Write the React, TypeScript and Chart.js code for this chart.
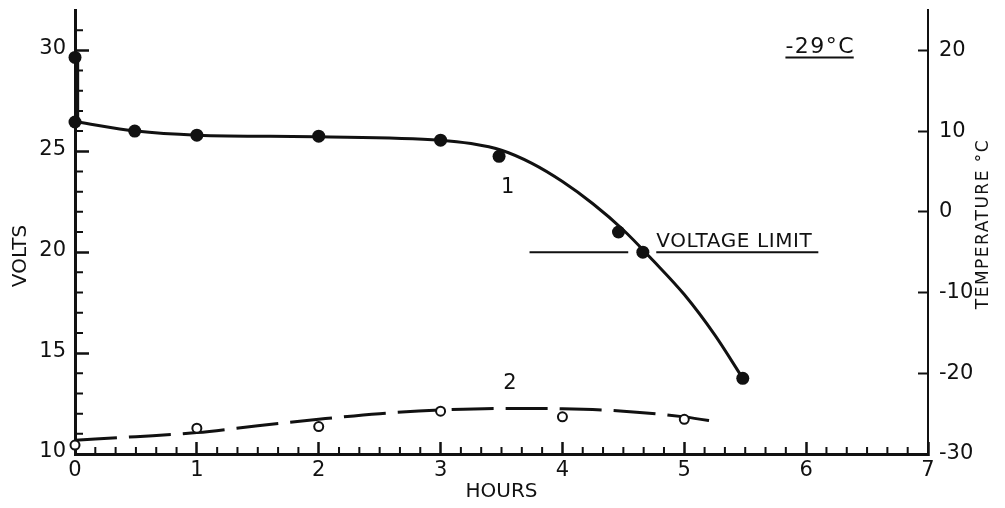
import React, { useEffect, useRef } from "react";
import { Chart, registerables } from "chart.js";

Chart.register(...registerables);

// ---------- data ----------
const hourTicks = [0, 1, 2, 3, 4, 5, 6, 7];
const voltTicks = [10, 15, 20, 25, 30];
const tempTicks = [-30, -20, -10, 0, 10, 20];

// curve 1: battery voltage (filled dots)
const voltHours = [0, 0, 0.49, 1, 2, 3, 3.48, 4.46, 4.66, 5.48];
const voltValues = [29.65, 26.45, 26.0, 25.8, 25.75, 25.55, 24.75, 21.0, 20.0, 13.75];

// initial voltage drop at switch-on (vertical stroke of curve 1)
const dropHours = [0.02, 0.02];
const dropValues = [29.65, 26.45];

// faired curve 1
const voltCurveHours = [0.02, 0.5, 1, 2, 3, 3.25, 3.5, 3.75, 4, 4.25, 4.5, 4.75, 5, 5.25, 5.48];
const voltCurveValues = [26.45, 26.0, 25.8, 25.72, 25.55, 25.38, 25.05, 24.4, 23.5, 22.4, 21.1, 19.55, 17.9, 15.9, 13.75];

// curve 2: temperature (open circles)
const tempHours = [0, 1, 2, 3, 4, 5];
const tempValues = [-28.9, -26.8, -26.6, -24.7, -25.4, -25.7];

// faired curve 2 (dashed)
const tempCurveHours = [0, 0.5, 1, 1.5, 2, 2.5, 3, 3.5, 4, 4.5, 5, 5.3];
const tempCurveValues = [-28.3, -27.85, -27.35, -26.5, -25.7, -25.0, -24.55, -24.35, -24.4, -24.7, -25.4, -26.1];

// voltage limit line (20 V), broken where it meets curve 1
const limitHours = [3.73, 4.54, 4.65, 4.77, 6.1];
const limitValues: (number | null)[] = [20, 20, null, 20, 20];

// text notes placed in data coordinates
const noteTexts = ["1", "2", "VOLTAGE LIMIT", "-29°C"];
const noteHours = [3.55, 3.57, 4.77, 5.83];
const noteVolts = [23.2, 13.5, 20.25, 29.85];

// ---------- style ----------
const INK = "#111111";
const FONT = '"DejaVu Sans", "Noto Sans", sans-serif';

const pts = (xs: number[], ys: (number | null)[]) => xs.map((x, i) => ({ x, y: ys[i] }));

const inkPlugin = {
  id: "inkPlugin",
  beforeDatasetsDraw(chart: any) {
    const { ctx, chartArea, scales } = chart;
    const xs = scales.x;
    const ys = scales.y;
    ctx.save();
    ctx.strokeStyle = INK;
    ctx.lineWidth = 2;
    ctx.beginPath();
    // minor hour ticks (10 minutes)
    for (let k = 1; k < 42; k++) {
      if (k % 6 === 0) continue;
      const px = xs.getPixelForValue(k / 6);
      ctx.moveTo(px, chartArea.bottom);
      ctx.lineTo(px, chartArea.bottom - 7);
    }
    // minor volt ticks (1 V)
    for (let v = 11; v < 32; v++) {
      if (v % 5 === 0) continue;
      const py = ys.getPixelForValue(v);
      ctx.moveTo(chartArea.left, py);
      ctx.lineTo(chartArea.left + 8, py);
    }
    ctx.stroke();
    ctx.restore();
  },
  afterDatasetsDraw(chart: any) {
    const { ctx, chartArea, scales } = chart;
    const xs = scales.x;
    const ys = scales.y;
    ctx.save();
    ctx.fillStyle = INK;
    ctx.strokeStyle = INK;

    const drawNote = (i: number, size: number, align: CanvasTextAlign, baseline: CanvasTextBaseline, spacing: number, underline: boolean) => {
      const px = xs.getPixelForValue(noteHours[i]);
      const py = ys.getPixelForValue(noteVolts[i]);
      ctx.font = `${size}px ${FONT}`;
      (ctx as any).letterSpacing = `${spacing}px`;
      ctx.textAlign = align;
      ctx.textBaseline = baseline;
      ctx.fillText(noteTexts[i], px, py);
      if (underline) {
        const w = ctx.measureText(noteTexts[i]).width;
        ctx.lineWidth = 2;
        ctx.beginPath();
        ctx.moveTo(px, py + 4);
        ctx.lineTo(px + w - spacing, py + 4);
        ctx.stroke();
      }
      (ctx as any).letterSpacing = "0px";
    };
    drawNote(0, 21, "center", "middle", 0, false);
    drawNote(1, 21, "center", "middle", 0, false);
    drawNote(2, 20, "left", "alphabetic", 0.6, false);
    drawNote(3, 22, "left", "alphabetic", 1.5, true);

    // axis titles
    ctx.textAlign = "center";
    ctx.textBaseline = "middle";
    ctx.font = `20px ${FONT}`;
    ctx.fillText("HOURS", (chartArea.left + chartArea.right) / 2, 492);

    ctx.save();
    ctx.translate(21, 256);
    ctx.rotate(-Math.PI / 2);
    ctx.fillText("VOLTS", 0, 0);
    ctx.restore();

    ctx.save();
    ctx.translate(984, 224);
    ctx.rotate(-Math.PI / 2);
    ctx.font = `17px ${FONT}`;
    (ctx as any).letterSpacing = "1.5px";
    ctx.fillText("TEMPERATURE °C", 0, 0);
    (ctx as any).letterSpacing = "0px";
    ctx.restore();

    ctx.restore();
  },
};

export default function App() {
  const ref = useRef<HTMLCanvasElement>(null);

  useEffect(() => {
    if (!ref.current) return;
    const tickFont = { family: FONT, size: 21 };
    const chart = new Chart(ref.current, {
      type: "line",
      data: {
        datasets: [
          {
            label: "volts points",
            data: pts(voltHours, voltValues),
            yAxisID: "y",
            showLine: false,
            pointRadius: 6.5,
            pointHoverRadius: 6.5,
            pointBackgroundColor: INK,
            pointBorderWidth: 0,
            clip: false,
          },
          {
            label: "temperature points",
            data: pts(tempHours, tempValues),
            yAxisID: "y2",
            showLine: false,
            pointRadius: 4.5,
            pointHoverRadius: 4.5,
            pointBackgroundColor: "#ffffff",
            pointBorderColor: INK,
            pointBorderWidth: 2,
            clip: false,
          },
          {
            label: "initial drop",
            data: pts(dropHours, dropValues),
            yAxisID: "y",
            borderColor: INK,
            borderWidth: 3.5,
            pointRadius: 0,
            tension: 0,
            clip: false,
          },
          {
            label: "volts curve",
            data: pts(voltCurveHours, voltCurveValues),
            yAxisID: "y",
            borderColor: INK,
            borderWidth: 3,
            pointRadius: 0,
            tension: 0.4,
            cubicInterpolationMode: "monotone",
            clip: false,
          },
          {
            label: "temperature curve",
            data: pts(tempCurveHours, tempCurveValues),
            yAxisID: "y2",
            borderColor: INK,
            borderWidth: 3,
            borderDash: [42, 12],
            pointRadius: 0,
            tension: 0.4,
            cubicInterpolationMode: "monotone",
            clip: false,
          },
          {
            label: "voltage limit",
            data: pts(limitHours, limitValues),
            yAxisID: "y",
            borderColor: INK,
            borderWidth: 2,
            pointRadius: 0,
            spanGaps: false,
            clip: false,
          },
        ],
      },
      options: {
        animation: false,
        responsive: false,
        devicePixelRatio: 1,
        events: [],
        layout: { padding: { top: 10, left: 0, right: 0, bottom: 0 } },
        plugins: { legend: { display: false }, tooltip: { enabled: false } },
        scales: {
          x: {
            type: "linear",
            position: "bottom",
            min: 0,
            max: 7,
            afterBuildTicks: (s: any) => {
              s.ticks = hourTicks.map((v) => ({ value: v }));
            },
            ticks: { font: tickFont, color: INK, padding: 16, maxRotation: 0, autoSkip: false },
            grid: { drawOnChartArea: false, drawTicks: true, tickLength: -12, tickWidth: 2.5, tickColor: INK },
            border: { display: true, color: INK, width: 3 },
            afterFit: (s: any) => {
              s.height = 54;
              s.paddingLeft = 0;
              s.paddingRight = 0;
            },
          },
          y: {
            type: "linear",
            position: "left",
            min: 10,
            max: 32,
            afterBuildTicks: (s: any) => {
              s.ticks = voltTicks.map((v) => ({ value: v }));
            },
            ticks: { font: tickFont, color: INK, padding: 23, autoSkip: false, labelOffset: -2 },
            grid: { drawOnChartArea: false, drawTicks: true, tickLength: -14, tickWidth: 2.5, tickColor: INK },
            border: { display: true, color: INK, width: 3 },
            afterFit: (s: any) => {
              s.width = 75;
              s.paddingTop = 0;
              s.paddingBottom = 0;
            },
          },
          y2: {
            type: "linear",
            position: "right",
            min: -30,
            max: 25,
            afterBuildTicks: (s: any) => {
              s.ticks = tempTicks.map((v) => ({ value: v }));
            },
            ticks: { font: tickFont, color: INK, padding: 21, autoSkip: false },
            grid: { drawOnChartArea: false, drawTicks: true, tickLength: -10, tickWidth: 2, tickColor: INK },
            border: { display: true, color: INK, width: 2 },
            afterFit: (s: any) => {
              s.width = 77;
              s.paddingTop = 0;
              s.paddingBottom = 0;
            },
          },
        },
      },
      plugins: [inkPlugin],
    } as any);
    return () => chart.destroy();
  }, []);

  return (
    <div style={{ position: "fixed", left: 0, top: 0, width: 1005, height: 508, background: "#ffffff" }}>
      <canvas ref={ref} width={1005} height={508} style={{ display: "block", width: 1005, height: 508 }} />
    </div>
  );
}
